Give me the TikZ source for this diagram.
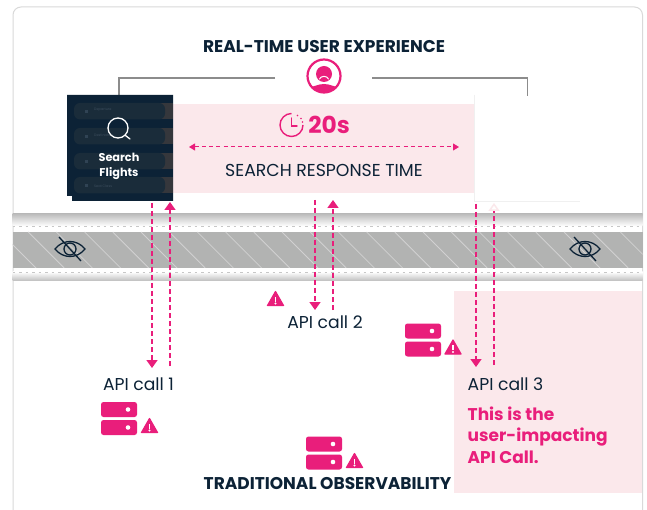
\documentclass[tikz,border=0pt]{standalone}
\usepackage{fontspec}
\setmainfont{Poppins}
\usetikzlibrary{arrows.meta,calc}
\definecolor{pinkc}{HTML}{E91E7B}
\definecolor{pale}{HTML}{FBE8EB}
\definecolor{navy}{HTML}{0C2236}
\definecolor{bandgrey}{HTML}{B2B3B2}
\definecolor{rowend}{HTML}{35373C}
\definecolor{rowfill}{HTML}{1A2C3A}
\tikzset{
  x=1pt,y=-1pt,
  card/.style={draw=black!15,line width=1pt,rounded corners=8pt,fill=white},
  frameline/.style={draw=black!45,line width=1.1pt},
  flow/.style={draw=pinkc,line width=1.5pt,dash pattern=on 5pt off 3pt,-{Triangle[length=8pt,width=11pt]}},
  span/.style={draw=pinkc,line width=1pt,dash pattern=on 4pt off 3.2pt,{Triangle[length=6pt,width=7pt]}-{Triangle[length=6pt,width=7pt]}},
  titletext/.style={font=\fontsize{17}{19}\selectfont\bfseries,text=navy,inner sep=0pt},
  bodytext/.style={font=\fontsize{17.2}{20}\selectfont,text=navy,inner sep=0pt},
  hot/.style={font=\fontsize{17}{21.5}\selectfont\bfseries,text=pinkc,inner sep=0pt,align=left},
  rowbar/.style={fill=rowfill,rounded corners=6pt},
  rowtxt/.style={font=\fontsize{3.4}{4}\selectfont,text=white!20!navy,inner sep=0pt,anchor=west},
  dotline/.style={draw=black!22,line width=.9pt,dash pattern=on 2.5pt off 4pt},
  eye/.pic={
    \draw[navy,line width=1.3pt] (-15,0) .. controls (-7,-10) and (7,-10) .. (15,0) .. controls (7,10) and (-7,10) .. (-15,0) -- cycle;
    \draw[navy,line width=1.3pt] (0,0) circle (6);
    \draw[navy,line width=1.3pt] (-11,-12) -- (11,12);
  },
  warnsign/.pic={
    \fill[pinkc,draw=pinkc,line width=1.2pt,line join=round] (0,-7) -- (8,7) -- (-8,7) -- cycle;
    \fill[white] (-.9,-2) rectangle (.9,3);
    \fill[white] (0,5) circle (1.1);
  },
  serverpic/.pic={
    \fill[pinkc,rounded corners=2.5pt] (0,0) rectangle (36,15);
    \fill[pinkc,rounded corners=2.5pt] (0,18) rectangle (36,33);
    \fill[white] (27,7.5) circle (2.3);
    \fill[white] (27,25.5) circle (2.3);
  }
}
\begin{document}
\begin{tikzpicture}
\useasboundingbox (0,0) rectangle (647,510);
\fill[white] (0,0) rectangle (647,510);
\draw[card] (13,530) -- (13,7) -- (642.5,7) -- (642.5,530);

% user-experience frame
\node[titletext] (uxtitle) at (324,47) {REAL-TIME USER EXPERIENCE};
\coordinate (frameL) at (275,78);
\coordinate (frameR) at (372,78);
\draw[frameline] (frameL) -- (119,78) -- (119,96);
\draw[frameline] (frameR) -- (527.5,78) -- (527.5,96);

% user icon
\node[circle,draw=pinkc,line width=2.2pt,minimum size=33pt,inner sep=0pt] (user) at (324,76) {};
\begin{scope}
  \clip (user.center) circle (16.5);
  \fill[pinkc] (306,95) -- (306,88) .. controls (314,87) and (318,84) .. (324,84) .. controls (330,84) and (334,87) .. (342,88) -- (342,95) -- cycle;
\end{scope}
\fill[pinkc] (324,74) circle (8);
\draw[white,line width=1pt,line cap=round] (319.5,79) .. controls (321,75.5) and (327,75.5) .. (328.5,79);

% band
\shade[top color=black!26,middle color=black!5,bottom color=white] (12.5,214) rectangle (642.5,226);
\fill[bandgrey] (12.5,232) rectangle (642.5,268);
\begin{scope}
  \clip (12.5,232) rectangle (642.5,268);
  \foreach \i in {-2,...,24}
    \draw[white!40!bandgrey,line width=.8pt] (\i*28.2,232) -- (\i*28.2+36,268);
\end{scope}
\shade[top color=white,middle color=black!5,bottom color=black!26] (12.5,272) rectangle (642.5,281);
\draw[dotline] (12.5,226) -- (642.5,226);
\draw[dotline] (12.5,272) -- (642.5,272);
\pic at (70,249) {eye};
\pic at (585,249) {eye};

% pale zones
\fill[pale] (173,104) rectangle (474,193);
\fill[pale] (454,291) rectangle (642,493);
\draw[black!6,line width=.6pt] (474.5,95) -- (474.5,201) -- (580,201);

% search card
\fill[navy] (67,95) rectangle (173,196) (72,196) rectangle (173,201);
\foreach \yy in {103,128,153,177} {
  \fill[rowend] (160,\yy) rectangle (173,\yy+16.5);
  \fill[rowbar] (74,\yy) rectangle (165,\yy+16.5);
  \fill[white!15!navy] (85,\yy+7) rectangle (88,\yy+10);
}
\node[rowtxt] at (94,110) {Departure};
\node[rowtxt] at (94,135) {Destination};
\node[rowtxt] at (94,186) {Seat Class};
\node[circle,draw=white,line width=1.3pt,minimum size=20pt,inner sep=0pt] (lens) at (118,128) {};
\draw[white,line width=1.3pt,line cap=round] (lens.-45) -- (130,139);
\node[font=\fontsize{11.3}{14.5}\selectfont\bfseries,text=white,align=center,inner sep=0pt] (searchlbl) at (119,166.5) {Search\\Flights};

% timer
\draw[pinkc,line width=1.4pt] (291.5,113.5) arc (-90:-360:11.5);
\draw[pinkc,line width=1.4pt,line cap=round] (291.5,118) -- (291.5,126) -- (297,126);
\foreach \p in {(297.5,115.5),(301,118.5),(302.5,122)} \fill[pinkc] \p circle (.9);
\node[font=\fontsize{23.3}{26}\selectfont\bfseries,text=pinkc,inner sep=0pt] (dur) at (329,124.5) {20s};

\coordinate (spanL) at (189,147);
\coordinate (spanR) at (459,147);
\draw[span] (spanL) -- (spanR);
\node[bodytext,font=\fontsize{17.3}{20}\selectfont] (srt) at (324,170) {SEARCH RESPONSE TIME};

% API calls
\node[bodytext] (api1) at (138.5,384) {API call 1};
\node[bodytext] (api2) at (325,322) {API call 2};
\node[bodytext,anchor=west] (api3) at (467.5,384) {API call 3};
\coordinate (d1a) at (152,203); \coordinate (d1b) at (152,368);
\coordinate (u1a) at (170,366); \coordinate (u1b) at (170,202);
\coordinate (d2a) at (315,200); \coordinate (d2b) at (315,310);
\coordinate (u2a) at (333,310); \coordinate (u2b) at (333,200);
\coordinate (d3a) at (476,204); \coordinate (d3b) at (476,367);
\coordinate (u3a) at (494,365); \coordinate (u3b) at (494,203);
\draw[flow] (d1a) -- (d1b);
\draw[flow] (u1a) -- (u1b);
\draw[flow] (d2a) -- (d2b);
\draw[flow] (u2a) -- (u2b);
\draw[flow] (d3a) -- (d3b);
\draw[flow,-{Triangle[length=8pt,width=11pt,fill=white,color=pale]}] (u3a) -- (u3b);

\node[hot,anchor=north west] (impact) at (467.5,406.5) {This is the\\user-impacting\\API Call.};
\node[titletext] (trad) at (327.5,484) {TRADITIONAL OBSERVABILITY};

\pic at (101,402) {serverpic};
\pic at (149.5,425.5) {warnsign};
\pic at (306,436.5) {serverpic};
\pic at (354.5,460.5) {warnsign};
\pic at (405,323.5) {serverpic};
\pic at (453,347) {warnsign};
\pic at (275.5,298.5) {warnsign};
\end{tikzpicture}
\end{document}
